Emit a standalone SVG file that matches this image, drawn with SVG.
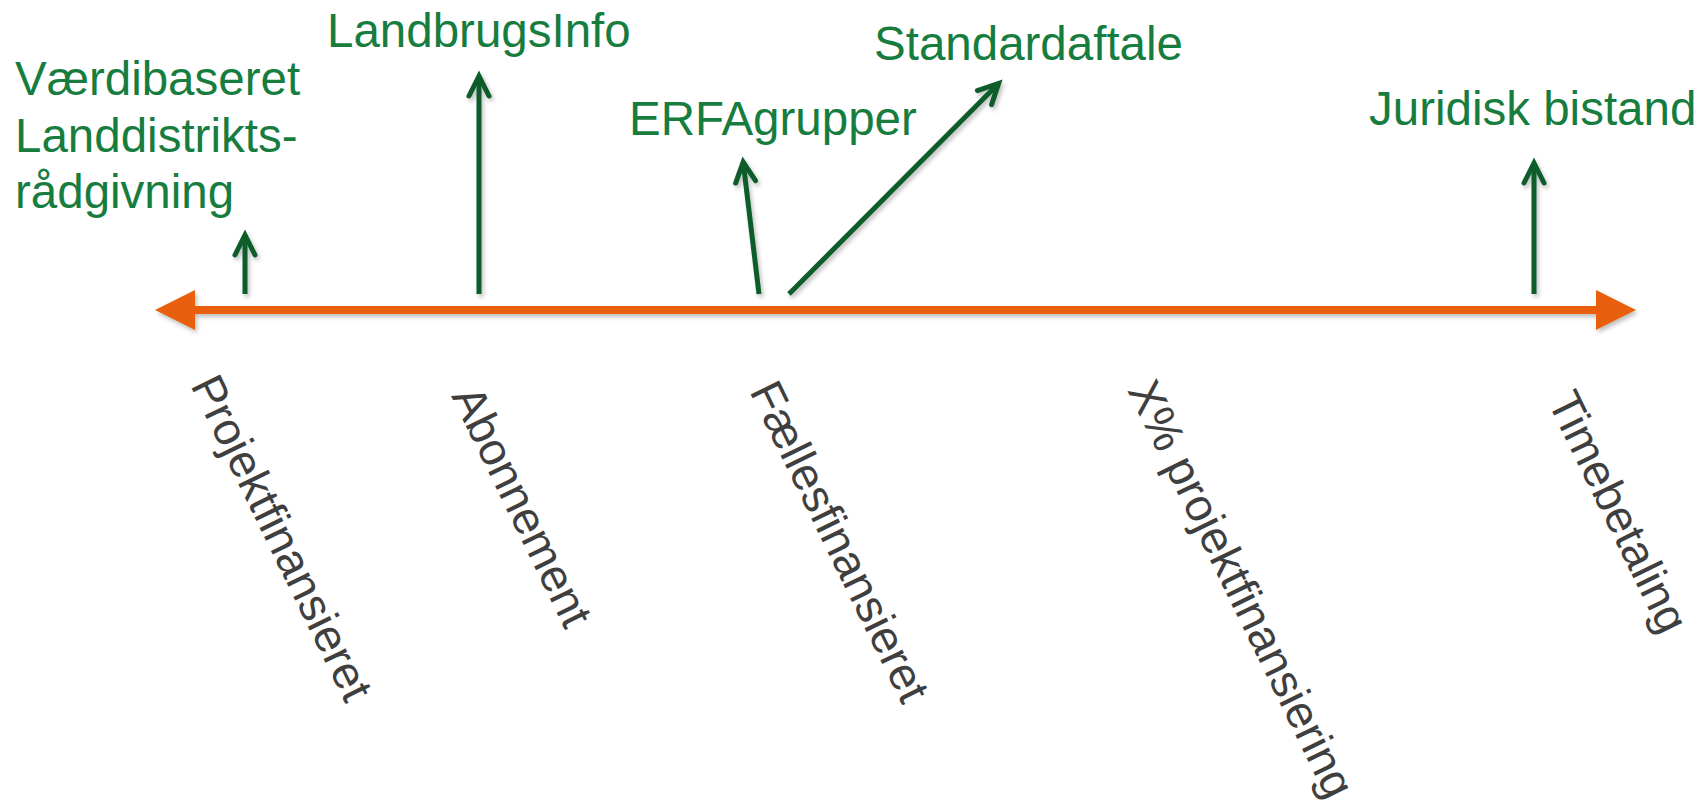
<svg xmlns="http://www.w3.org/2000/svg" width="1703" height="808" viewBox="0 0 1703 808">
<style>
.lbl{font-family:"Liberation Sans",Arial,sans-serif;font-size:47.5px;fill:#177d3f}
.cat{font-family:"Liberation Sans",Arial,sans-serif;font-size:46px;fill:#3f3f3f}
.garr{stroke:#0b5b2c;stroke-width:5;fill:none;marker-end:url(#chev)}
</style>
<defs>
<marker id="chev" markerUnits="userSpaceOnUse" orient="auto" refX="0" refY="0" markerWidth="30" markerHeight="30" viewBox="-25 -15 30 30" overflow="visible">
<path d="M-20,-10 L0,0 L-20,10" fill="none" stroke="#0b5b2c" stroke-width="5" stroke-linecap="round" stroke-linejoin="miter"/>
</marker>
<filter id="sh" x="-5%" y="-50%" width="110%" height="200%">
<feDropShadow dx="2" dy="3" stdDeviation="2" flood-color="#000" flood-opacity="0.25"/>
</filter>
</defs>
<rect width="1703" height="808" fill="#ffffff"/>
<g id="axis" filter="url(#sh)">
<line x1="190" y1="310" x2="1600" y2="310" stroke="#e8600f" stroke-width="8"/>
<polygon points="155,310 195,290 195,330" fill="#e8600f"/>
<polygon points="1636,310 1596,290 1596,330" fill="#e8600f"/>
</g>
<g id="connectors" filter="url(#sh)">
<line class="garr" x1="245" y1="294" x2="245" y2="235"/>
<line class="garr" x1="479" y1="294" x2="479" y2="76"/>
<line class="garr" x1="759" y1="294" x2="743.2" y2="162"/>
<line class="garr" x1="789" y1="294" x2="998.6" y2="83.4"/>
<line class="garr" x1="1534" y1="294" x2="1534" y2="163"/>
</g>
<g id="node-vaerdibaseret">
<text class="lbl" x="15" y="95">Værdibaseret</text>
<text class="lbl" x="15" y="151.5">Landdistrikts-</text>
<text class="lbl" x="15" y="208">rådgivning</text>
</g>
<g id="node-landbrugsinfo"><text class="lbl" x="327" y="47">LandbrugsInfo</text></g>
<g id="node-erfagrupper"><text class="lbl" x="629" y="135">ERFAgrupper</text></g>
<g id="node-standardaftale"><text class="lbl" x="874" y="60">Standardaftale</text></g>
<g id="node-juridisk"><text class="lbl" x="1369" y="125">Juridisk bistand</text></g>
<g id="node-projektfinansieret"><text class="cat" transform="translate(190,385) rotate(64)">Projektfinansieret</text></g>
<g id="node-abonnement"><text class="cat" transform="translate(451,396) rotate(64)">Abonnement</text></g>
<g id="node-faellesfinansieret"><text class="cat" transform="translate(749,391) rotate(64)">Fællesfinansieret</text></g>
<g id="node-xprojekt"><text class="cat" transform="translate(1127,390) rotate(64)">X% projektfinansiering</text></g>
<g id="node-timebetaling"><text class="cat" transform="translate(1547,401) rotate(64)">Timebetaling</text></g>
</svg>
